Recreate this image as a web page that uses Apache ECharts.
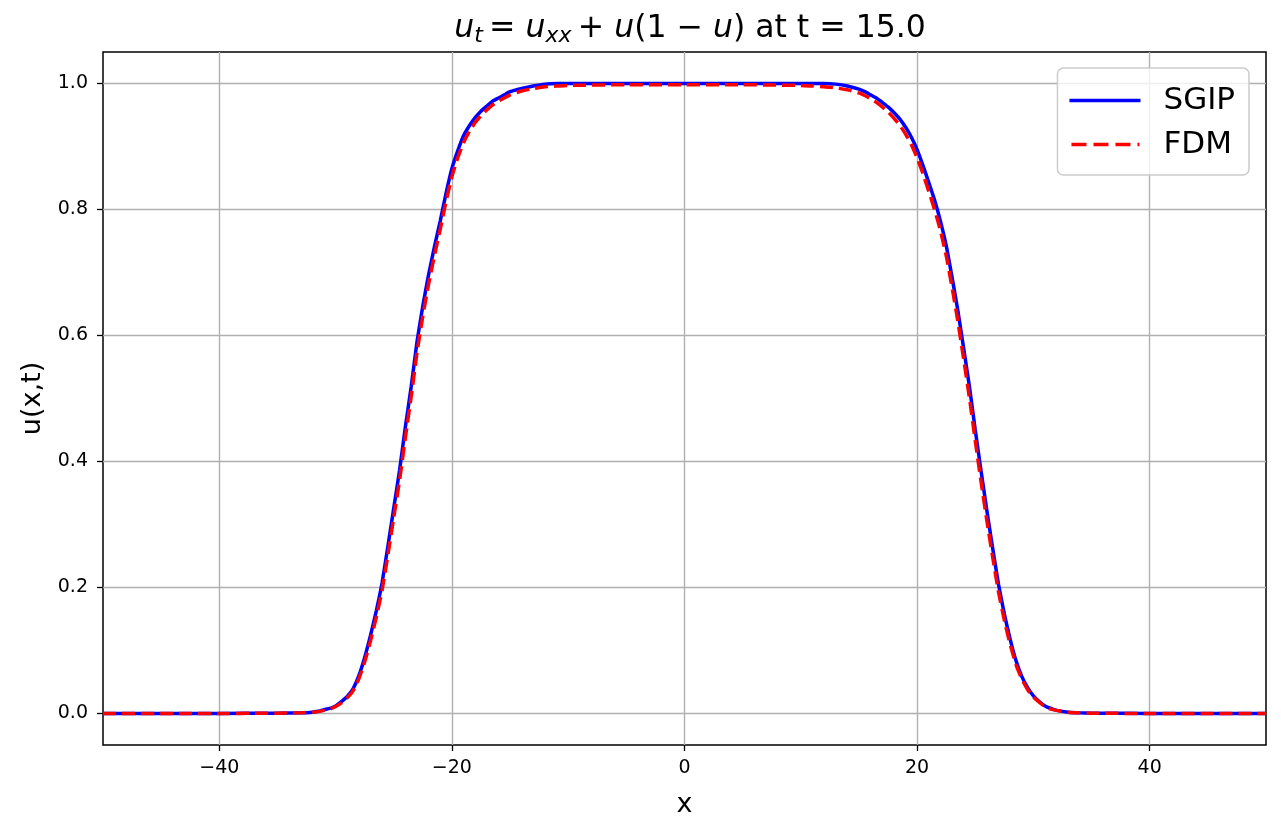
<!DOCTYPE html>
<html>
<head>
<meta charset="utf-8">
<script src="https://cdn.jsdelivr.net/npm/echarts@6/dist/echarts.min.js"></script>
<style>
html,body{margin:0;padding:0;background:#fff;}
#chart{width:1281px;height:836px;}
</style>
</head>
<body>
<div id="chart"></div>
<script>
// x positions
const xValues = [
  -50, -45, -40, -35, -33, -32,
  -31.5, -31, -30.5, -30, -29.5, -29, -28.5, -28, -27.5, -27, -26.5, -26, -25.5, -25,
  -24.5, -24, -23.5, -23, -22.5, -22, -21.5, -21, -20.5, -20, -19.5, -19, -18.5, -18,
  -17.5, -17, -16.5, -16, -15.5, -15,
  -14, -13, -12, -11, -10, -5, 0, 5, 10, 11, 12, 13, 14,
  15, 15.5, 16, 16.5, 17, 17.5, 18, 18.5, 19, 19.5, 20, 20.5, 21, 21.5, 22, 22.5,
  23, 23.5, 24, 24.5, 25, 25.5, 26, 26.5, 27, 27.5, 28, 28.5, 29, 29.5, 30, 30.5,
  31, 31.5,
  32, 33, 34, 35, 40, 45, 50
];
// SGIP solution u(x, t=15)
const sgipValues = [
  0, 0, 0, 0.0005, 0.001, 0.002,
  0.0035, 0.006, 0.008, 0.012, 0.019, 0.027, 0.039, 0.060, 0.089, 0.124, 0.163, 0.208, 0.266, 0.326,
  0.386, 0.455, 0.519, 0.590, 0.647, 0.697, 0.741, 0.782, 0.826, 0.865, 0.893, 0.917, 0.933, 0.946,
  0.956, 0.964, 0.972, 0.977, 0.982, 0.987,
  0.992, 0.996, 0.999, 1.0, 1.0, 1.0, 1.0, 1.0, 1.0, 1.0, 1.0, 0.999, 0.996,
  0.991, 0.987, 0.982, 0.977, 0.970, 0.963, 0.954, 0.944, 0.931, 0.915, 0.895, 0.870, 0.843, 0.815, 0.782, 0.743,
  0.693, 0.640, 0.580, 0.519, 0.450, 0.385, 0.322, 0.262, 0.205, 0.158, 0.118, 0.084, 0.059, 0.041, 0.028, 0.019,
  0.012, 0.008,
  0.005, 0.002, 0.001, 0.0005, 0, 0, 0
];
// FDM solution u(x, t=15)
const fdmValues = [
  0, 0, 0, 0.0005, 0.001, 0.002,
  0.003, 0.005, 0.007, 0.011, 0.017, 0.025, 0.036, 0.055, 0.082, 0.115, 0.153, 0.196, 0.252, 0.311,
  0.370, 0.438, 0.503, 0.573, 0.631, 0.682, 0.727, 0.769, 0.813, 0.852, 0.882, 0.906, 0.924, 0.938,
  0.949, 0.958, 0.966, 0.972, 0.977, 0.982,
  0.988, 0.992, 0.995, 0.996, 0.997, 0.998, 0.998, 0.998, 0.997, 0.996, 0.995, 0.993, 0.990,
  0.985, 0.981, 0.976, 0.970, 0.963, 0.955, 0.945, 0.934, 0.920, 0.903, 0.882, 0.857, 0.829, 0.800, 0.767, 0.727,
  0.677, 0.623, 0.563, 0.501, 0.433, 0.368, 0.306, 0.248, 0.193, 0.148, 0.110, 0.078, 0.055, 0.038, 0.026, 0.018,
  0.011, 0.007,
  0.005, 0.002, 0.001, 0.0005, 0, 0, 0
];
const seriesNames = ['SGIP', 'FDM'];
const xTicks = [-40, -20, 0, 20, 40];
const yTicks = [0, 0.2, 0.4, 0.6, 0.8, 1.0];

const FONT = 'DejaVu Sans';
const chart = echarts.init(document.getElementById('chart'), null, {renderer: 'canvas'});

function pairs(xs, ys) { return xs.map((x, i) => [x, ys[i]]); }

const axisCommon = {
  axisLine: {show: false, onZero: false},
  axisTick: {show: true, inside: false, length: 6, lineStyle: {color: '#000', width: 1.3}},
  axisLabel: {color: '#000', fontFamily: FONT, fontSize: 19},
  splitLine: {show: true, lineStyle: {color: '#b0b0b0', width: 1.4}}
};

// legend handle shapes (solid line, dashed line)
const solidIcon = 'path://M0,0h71v1h-71z';
const dashIcon = 'path://M2,0h15v1h-15z M24,0h15v1h-15z M46,0h15v1h-15z M68,0h2v1h-2z M0,0h0.01v1h-0.01z M70.99,0h0.01v1h-0.01z';

chart.setOption({
  animation: false,
  backgroundColor: '#ffffff',
  title: {
    left: 685,
    top: 5,
    textAlign: 'center',
    text: '{i|u}{s|t}{n|\u2009= }{i|u}{s|xx}{n|\u2009+ }{i|u}{n|(1 \u2212 }{i|u}{n|) at t = 15.0}',
    textStyle: {
      fontWeight: 'normal',
      rich: {
        i: {fontFamily: FONT, fontStyle: 'italic', fontWeight: 'normal', fontSize: 31.5, color: '#000', lineHeight: 37},
        n: {fontFamily: FONT, fontWeight: 'normal', fontSize: 31.5, color: '#000', lineHeight: 37},
        s: {fontFamily: FONT, fontStyle: 'italic', fontWeight: 'normal', fontSize: 22, color: '#000', lineHeight: 37, padding: [16, 0, 0, 0]}
      }
    }
  },
  grid: {
    left: 103, right: 15, top: 52, bottom: 91,
    show: true, borderColor: '#000', borderWidth: 1.5, backgroundColor: 'transparent'
  },
  legend: {
    data: [
      {name: seriesNames[0], icon: solidIcon},
      {name: seriesNames[1], icon: dashIcon}
    ],
    orient: 'vertical',
    right: 32,
    top: 68,
    itemWidth: 71,
    itemHeight: 3.5,
    symbolKeepAspect: false,
    itemGap: 13,
    padding: [17, 14, 15, 12],
    backgroundColor: 'rgba(255,255,255,0.8)',
    borderColor: '#cccccc',
    borderWidth: 1.5,
    borderRadius: 6,
    textStyle: {fontFamily: FONT, fontSize: 31, color: '#000', lineHeight: 31, padding: [0, 0, 0, 18]}
  },
  xAxis: Object.assign({}, axisCommon, {
    type: 'value',
    min: -50, max: 50,
    name: 'x',
    nameLocation: 'middle',
    nameGap: 46,
    nameTextStyle: {fontFamily: FONT, fontSize: 27, color: '#000'},
    axisTick: Object.assign({}, axisCommon.axisTick, {customValues: xTicks}),
    axisLabel: Object.assign({}, axisCommon.axisLabel, {
      customValues: xTicks, margin: 14,
      formatter: v => String(v).replace('-', '\u2212')
    })
  }),
  yAxis: Object.assign({}, axisCommon, {
    type: 'value',
    min: -0.05, max: 1.05,
    name: 'u(x,t)',
    nameLocation: 'middle',
    nameGap: 57,
    nameTextStyle: {fontFamily: FONT, fontSize: 27, color: '#000'},
    axisTick: Object.assign({}, axisCommon.axisTick, {customValues: yTicks}),
    axisLabel: Object.assign({}, axisCommon.axisLabel, {
      customValues: yTicks, margin: 15,
      formatter: v => v.toFixed(1)
    })
  }),
  series: [
    {
      name: seriesNames[0], type: 'line', data: pairs(xValues, sgipValues),
      showSymbol: false, symbol: 'none', smooth: 0.15,
      lineStyle: {color: '#0000ff', width: 3.5},
      itemStyle: {color: '#0000ff'}, z: 3
    },
    {
      name: seriesNames[1], type: 'line', data: pairs(xValues, fdmValues),
      showSymbol: false, symbol: 'none', smooth: 0.15,
      lineStyle: {color: '#ff0000', width: 3.5, type: [13, 6]},
      itemStyle: {color: '#ff0000'}, z: 4
    }
  ]
});
</script>
</body>
</html>
